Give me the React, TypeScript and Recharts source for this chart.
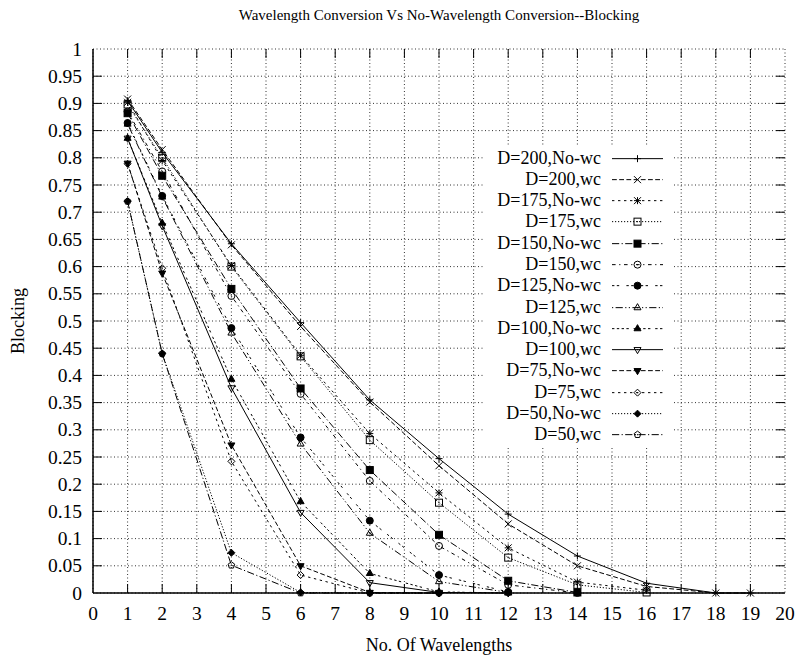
import React from "react";
import { LineChart, Line, XAxis, YAxis, CartesianGrid, Legend } from "recharts";

// number of wavelengths sampled per run
const wavelengthsD200 = [1, 2, 4, 6, 8, 10, 12, 14, 16, 18, 19];
const wavelengthsD175 = [1, 2, 4, 6, 8, 10, 12, 14, 16];
const wavelengthsD150 = [1, 2, 4, 6, 8, 10, 12, 14];
const wavelengthsD100 = [1, 2, 4, 6, 8, 10, 12];
const wavelengthsD50 = [1, 2, 4, 6, 8, 10];

// blocking probability per run
const blockD200NoWc = [0.905, 0.81, 0.642, 0.497, 0.355, 0.247, 0.145, 0.068, 0.018, 0, 0];
const blockD200Wc = [0.908, 0.815, 0.64, 0.49, 0.351, 0.234, 0.127, 0.05, 0.012, 0, 0];
const blockD175NoWc = [0.902, 0.795, 0.602, 0.437, 0.293, 0.184, 0.083, 0.02, 0.005];
const blockD175Wc = [0.898, 0.8, 0.6, 0.435, 0.281, 0.166, 0.065, 0.015, 0.001];
const blockD150NoWc = [0.882, 0.767, 0.559, 0.376, 0.226, 0.107, 0.0225, 0.001];
const blockD150Wc = [0.885, 0.775, 0.546, 0.366, 0.206, 0.0865, 0.015, 0];
const blockD125NoWc = [0.864, 0.73, 0.487, 0.286, 0.133, 0.033, 0.002];
const blockD125Wc = [0.862, 0.728, 0.478, 0.274, 0.11, 0.021, 0.001];
const blockD100NoWc = [0.836, 0.68, 0.393, 0.168, 0.036, 0.002, 0];
const blockD100Wc = [0.836, 0.675, 0.377, 0.148, 0.019, 0.001, 0];
const blockD75NoWc = [0.79, 0.588, 0.272, 0.05, 0.001, 0];
const blockD75Wc = [0.789, 0.597, 0.242, 0.033, 0, 0];
const blockD50NoWc = [0.72, 0.44, 0.074, 0.001, 0, 0];
const blockD50Wc = [0.72, 0.44, 0.051, 0, 0, 0];

const xTicks = [0, 1, 2, 3, 4, 5, 6, 7, 8, 9, 10, 11, 12, 13, 14, 15, 16, 17, 18, 19, 20];
const yTicks = [0, 0.05, 0.1, 0.15, 0.2, 0.25, 0.3, 0.35, 0.4, 0.45, 0.5, 0.55, 0.6, 0.65, 0.7, 0.75, 0.8, 0.85, 0.9, 0.95, 1];

const W = 798;
const H = 663;
const PL = 93;
const PR = 785;
const PT = 49;
const PB = 593;
const FONT = "'Liberation Serif', 'DejaVu Serif', serif";
const FS = 18;
const TICK_FS = 19.5;
const TITLE_FS = 15;

// gnuplot-style dash patterns
const DASH = [
  undefined,
  "4.8 2.4",
  "2.4 3.6",
  "1.2 1.8",
  "7.2 2.4 1.2 2.4",
  "3.6 3.6 1.2 3.6",
  "2.4 2.4 2.4 7.2",
  "1.2 2.4 7.2 2.4 1.2 2.4",
  "2.4 2.4 2.4 2.4 2.4 2.4 2.4 4.8",
];

type Kind =
  | "plus" | "cross" | "star" | "box" | "boxF" | "circle" | "circleF"
  | "triU" | "triUF" | "triD" | "triDF" | "dia" | "diaF" | "pent";

const series: { name: string; xs: number[]; ys: number[]; dash?: string; kind: Kind }[] = [
  { name: "D=200,No-wc", xs: wavelengthsD200, ys: blockD200NoWc, dash: DASH[0], kind: "plus" },
  { name: "D=200,wc", xs: wavelengthsD200, ys: blockD200Wc, dash: DASH[1], kind: "cross" },
  { name: "D=175,No-wc", xs: wavelengthsD175, ys: blockD175NoWc, dash: DASH[2], kind: "star" },
  { name: "D=175,wc", xs: wavelengthsD175, ys: blockD175Wc, dash: DASH[3], kind: "box" },
  { name: "D=150,No-wc", xs: wavelengthsD150, ys: blockD150NoWc, dash: DASH[4], kind: "boxF" },
  { name: "D=150,wc", xs: wavelengthsD150, ys: blockD150Wc, dash: DASH[5], kind: "circle" },
  { name: "D=125,No-wc", xs: wavelengthsD100, ys: blockD125NoWc, dash: DASH[6], kind: "circleF" },
  { name: "D=125,wc", xs: wavelengthsD100, ys: blockD125Wc, dash: DASH[7], kind: "triU" },
  { name: "D=100,No-wc", xs: wavelengthsD100, ys: blockD100NoWc, dash: DASH[8], kind: "triUF" },
  { name: "D=100,wc", xs: wavelengthsD100, ys: blockD100Wc, dash: DASH[0], kind: "triD" },
  { name: "D=75,No-wc", xs: wavelengthsD50, ys: blockD75NoWc, dash: DASH[1], kind: "triDF" },
  { name: "D=75,wc", xs: wavelengthsD50, ys: blockD75Wc, dash: DASH[2], kind: "dia" },
  { name: "D=50,No-wc", xs: wavelengthsD50, ys: blockD50NoWc, dash: DASH[3], kind: "diaF" },
  { name: "D=50,wc", xs: wavelengthsD50, ys: blockD50Wc, dash: DASH[4], kind: "pent" },
];

function Mark({ cx, cy, kind }: { cx: number; cy: number; kind: Kind }) {
  const s = 3.5;
  const st = { stroke: "#000", strokeWidth: 1, fill: "none" };
  const dot = <circle cx={cx} cy={cy} r={0.6} fill="#000" />;
  switch (kind) {
    case "plus":
      return <path d={`M${cx - s},${cy}H${cx + s}M${cx},${cy - s}V${cy + s}`} {...st} />;
    case "cross":
      return <path d={`M${cx - s},${cy - s}L${cx + s},${cy + s}M${cx - s},${cy + s}L${cx + s},${cy - s}`} {...st} />;
    case "star":
      return (
        <path
          d={`M${cx - s},${cy}H${cx + s}M${cx},${cy - s}V${cy + s}M${cx - s},${cy - s}L${cx + s},${cy + s}M${cx - s},${cy + s}L${cx + s},${cy - s}`}
          {...st}
        />
      );
    case "box":
    case "boxF":
      return (
        <g>
          <rect x={cx - s} y={cy - s} width={2 * s} height={2 * s} {...st} fill={kind === "boxF" ? "#000" : "none"} />
          {kind === "box" && dot}
        </g>
      );
    case "circle":
    case "circleF":
      return (
        <g>
          <circle cx={cx} cy={cy} r={s} {...st} fill={kind === "circleF" ? "#000" : "none"} />
          {kind === "circle" && dot}
        </g>
      );
    case "triU":
    case "triUF": {
      const p = `${cx},${cy - s * 1.15} ${cx - s},${cy + s * 0.6} ${cx + s},${cy + s * 0.6}`;
      return (
        <g>
          <polygon points={p} {...st} fill={kind === "triUF" ? "#000" : "none"} />
          {kind === "triU" && dot}
        </g>
      );
    }
    case "triD":
    case "triDF": {
      const p = `${cx},${cy + s * 1.15} ${cx - s},${cy - s * 0.6} ${cx + s},${cy - s * 0.6}`;
      return (
        <g>
          <polygon points={p} {...st} fill={kind === "triDF" ? "#000" : "none"} />
          {kind === "triD" && dot}
        </g>
      );
    }
    case "dia":
    case "diaF": {
      const p = `${cx},${cy - s} ${cx + s},${cy} ${cx},${cy + s} ${cx - s},${cy}`;
      return (
        <g>
          <polygon points={p} {...st} fill={kind === "diaF" ? "#000" : "none"} />
          {kind === "dia" && dot}
        </g>
      );
    }
    case "pent": {
      const pts = [0, 1, 2, 3, 4]
        .map((i) => {
          const a = -Math.PI / 2 + (i * 2 * Math.PI) / 5;
          return `${cx + s * Math.cos(a)},${cy + s * Math.sin(a)}`;
        })
        .join(" ");
      return (
        <g>
          <polygon points={pts} {...st} />
          {dot}
        </g>
      );
    }
  }
  return null;
}

const fmtY = (v: number) => String(Number(v.toFixed(2)));

function YTick(props: any) {
  const { y, payload } = props;
  const v = payload.value as number;
  const inner = v > 0 && v < 1;
  return (
    <g>
      {inner && <line x1={PL} x2={PL + 9} y1={y} y2={y} stroke="#000" />}
      {inner && <line x1={PR - 9} x2={PR} y1={y} y2={y} stroke="#000" />}
      <text x={PL - 11} y={y} textAnchor="end" dominantBaseline="central" fontFamily={FONT} fontSize={TICK_FS} fill="#000">
        {fmtY(v)}
      </text>
    </g>
  );
}

function XTick(props: any) {
  const { x, payload } = props;
  const v = payload.value as number;
  const inner = v > 0 && v < 20;
  return (
    <g>
      {inner && <line x1={x} x2={x} y1={PB} y2={PB - 9} stroke="#000" />}
      {inner && <line x1={x} x2={x} y1={PT} y2={PT + 9} stroke="#000" />}
      <text x={x} y={PB + 20} textAnchor="middle" dominantBaseline="central" fontFamily={FONT} fontSize={TICK_FS} fill="#000">
        {v}
      </text>
    </g>
  );
}

const ROW_H = 21.3;

function KeyBox() {
  return (
    <div style={{ background: "#fff", width: 190, height: 300, paddingTop: 0.5, fontFamily: FONT, fontSize: FS, color: "#000" }}>
      {series.map((s) => (
        <div key={s.name} style={{ display: "flex", alignItems: "center", height: ROW_H }}>
          <div style={{ width: 117, textAlign: "right", whiteSpace: "nowrap", lineHeight: `${ROW_H}px` }}>{s.name}</div>
          <svg width={73} height={ROW_H} style={{ display: "block" }}>
            <line x1={11} x2={62} y1={ROW_H / 2} y2={ROW_H / 2} stroke="#000" strokeWidth={1} strokeDasharray={s.dash} />
            <Mark cx={36.5} cy={ROW_H / 2} kind={s.kind} />
          </svg>
        </div>
      ))}
    </div>
  );
}

export default function App() {
  return (
    <div style={{ position: "absolute", left: 0, top: 0, width: W, height: H, background: "#fff", fontFamily: FONT }}>
      <div style={{ position: "absolute", left: PL, width: PR - PL, top: 5, textAlign: "center", fontSize: TITLE_FS, lineHeight: "20px" }}>
        Wavelength Conversion Vs No-Wavelength Conversion--Blocking
      </div>
      <LineChart width={W} height={H} margin={{ top: PT, right: W - PR, bottom: 0, left: 0 }}>
        <CartesianGrid stroke="#333" strokeWidth={1} strokeDasharray="1 2.5" />
        <XAxis
          type="number"
          dataKey="w"
          domain={[0, 20]}
          ticks={xTicks}
          interval={0}
          height={H - PB}
          axisLine={{ stroke: "#000", strokeWidth: 1.5 }}
          tickLine={false}
          tick={<XTick />}
          allowDuplicatedCategory={false}
        />
        <XAxis xAxisId="top" orientation="top" type="number" domain={[0, 20]} height={0} tick={false} tickLine={false} axisLine={{ stroke: "#000", strokeWidth: 1.5 }} />
        <YAxis
          type="number"
          domain={[0, 1]}
          ticks={yTicks}
          interval={0}
          width={PL}
          axisLine={{ stroke: "#000", strokeWidth: 1.5 }}
          tickLine={false}
          tick={<YTick />}
        />
        <YAxis yAxisId="right" orientation="right" type="number" domain={[0, 1]} width={0} tick={false} tickLine={false} axisLine={{ stroke: "#000", strokeWidth: 1.5 }} />
        <Legend
          layout="vertical"
          align="center"
          verticalAlign="middle"
          wrapperStyle={{ left: 484, top: 147, width: 190, height: 300 }}
          content={() => <KeyBox />}
        />
        {series.map((s) => (
          <Line
            key={s.name}
            name={s.name}
            data={s.xs.map((w, i) => ({ w, b: s.ys[i] }))}
            dataKey="b"
            type="linear"
            stroke="#000"
            strokeWidth={1}
            strokeDasharray={s.dash}
            isAnimationActive={false}
            activeDot={false}
            dot={(p: any) => <Mark key={`${s.name}-${p.index}`} cx={p.cx} cy={p.cy} kind={s.kind} />}
          />
        ))}
      </LineChart>
      <div style={{ position: "absolute", left: PL, width: PR - PL, top: 634, textAlign: "center", fontSize: FS, lineHeight: "22px" }}>
        No. Of Wavelengths
      </div>
      <div
        style={{
          position: "absolute",
          left: 18,
          top: 321,
          transform: "translate(-50%, -50%) rotate(-90deg)",
          fontSize: FS,
          whiteSpace: "nowrap",
        }}
      >
        Blocking
      </div>
    </div>
  );
}
